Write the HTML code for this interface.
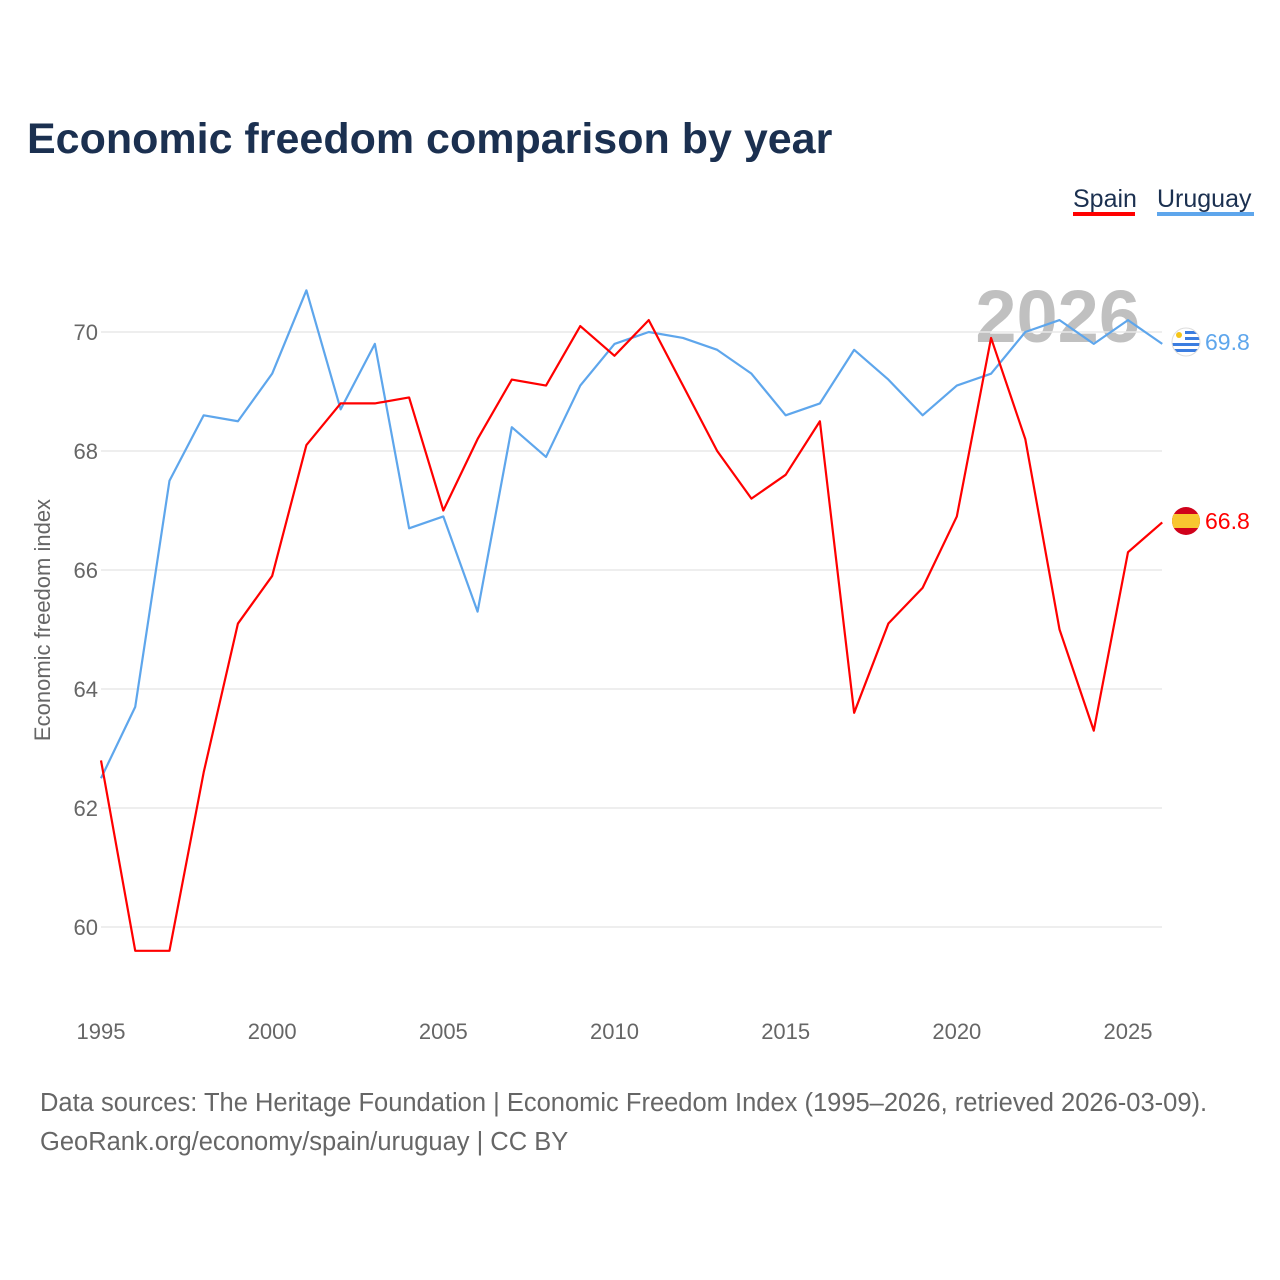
<!DOCTYPE html>
<html><head><meta charset="utf-8"><style>
body{margin:0;background:#fff;font-family:"Liberation Sans",sans-serif;}
svg{display:block}
</style></head><body>
<svg width="1280" height="1280" viewBox="0 0 1280 1280">
<text x="27" y="153" font-size="43" font-weight="bold" fill="#1b3050">Economic freedom comparison by year</text>
<g>
<text x="1073" y="207" font-size="25" fill="#1b3050">Spain</text>
<rect x="1073" y="212" width="62" height="4" fill="#ff0000"/>
<text x="1157" y="207" font-size="25" fill="#1b3050">Uruguay</text>
<rect x="1157" y="212" width="97" height="4" fill="#5ea6ec"/>
</g>
<text x="1140" y="342" font-size="74" font-weight="bold" fill="#c0c0c0" text-anchor="end">2026</text>
<g id="grid"></g><g id="xt"></g>
<text transform="translate(50,620) rotate(-90)" font-size="22" fill="#666" text-anchor="middle">Economic freedom index</text>
<g id="lines"></g>
<g>
<clipPath id="cu"><circle cx="1186" cy="342" r="14"/></clipPath>
<g clip-path="url(#cu)"><rect x="1172" y="328" width="28" height="28" fill="#fff"/>
<rect x="1172" y="331" width="28" height="3" fill="#3b7de0"/><rect x="1172" y="337" width="28" height="3" fill="#3b7de0"/><rect x="1172" y="343" width="28" height="3" fill="#3b7de0"/><rect x="1172" y="349" width="28" height="3" fill="#3b7de0"/>
<rect x="1172" y="328" width="13" height="13" fill="#fff"/><circle cx="1179" cy="335" r="3" fill="#f5c518"/></g>
<circle cx="1186" cy="342" r="14" fill="none" stroke="#ddd" stroke-width="1"/>
<text x="1205" y="350" font-size="23" fill="#5ea6ec">69.8</text></g>
<g>
<clipPath id="cs"><circle cx="1186" cy="521" r="14"/></clipPath>
<g clip-path="url(#cs)"><rect x="1172" y="507" width="28" height="28" fill="#d0021b"/><rect x="1172" y="514" width="28" height="14" fill="#f8c630"/></g>
<text x="1205" y="529" font-size="23" fill="#ff0000">66.8</text></g>
<text x="40" y="1111" font-size="25.5" fill="#666">Data sources: The Heritage Foundation | Economic Freedom Index (1995–2026, retrieved 2026-03-09).</text>
<text x="40" y="1150" font-size="25.5" fill="#666">GeoRank.org/economy/spain/uruguay | CC BY</text>
</svg>
<script>
const years=[1995,1996,1997,1998,1999,2000,2001,2002,2003,2004,2005,2006,2007,2008,2009,2010,2011,2012,2013,2014,2015,2016,2017,2018,2019,2020,2021,2022,2023,2024,2025,2026];
const spain=[62.8,59.6,59.6,62.6,65.1,65.9,68.1,68.8,68.8,68.9,67.0,68.2,69.2,69.1,70.1,69.6,70.2,69.1,68.0,67.2,67.6,68.5,63.6,65.1,65.7,66.9,69.9,68.2,65.0,63.3,66.3,66.8];
const uruguay=[62.5,63.7,67.5,68.6,68.5,69.3,70.7,68.7,69.8,66.7,66.9,65.3,68.4,67.9,69.1,69.8,70.0,69.9,69.7,69.3,68.6,68.8,69.7,69.2,68.6,69.1,69.3,70.0,70.2,69.8,70.2,69.8];
const yTicks=[60,62,64,66,68,70];
const xTicks=[1995,2000,2005,2010,2015,2020,2025];
const NS="http://www.w3.org/2000/svg";
const xs=y=>101+(y-1995)*(1128-101)/30;
const ys=v=>927-(v-60)*59.5;
function mk(t,a,p){const e=document.createElementNS(NS,t);for(const k in a)e.setAttribute(k,a[k]);p.appendChild(e);return e;}
const g=document.getElementById('grid');
yTicks.forEach(v=>{
const l=mk('line',{x1:101,x2:1162,y1:ys(v),y2:ys(v),stroke:'#e8e8e8','stroke-width':1.5},g);


const t=mk('text',{x:98,y:ys(v)+8,'font-size':22,fill:'#666','text-anchor':'end'},g);t.textContent=v;


});
const xt=document.getElementById('xt');
xTicks.forEach(v=>{
const t=mk('text',{x:xs(v),y:1039,'font-size':22,fill:'#666','text-anchor':'middle'},xt);t.textContent=v;


});
const L=document.getElementById('lines');
function line(d,c,n){const p=mk('polyline',{points:d.map((v,i)=>xs(years[i])+','+ys(v)).join(' '),fill:'none',stroke:c,'stroke-width':2.2,'stroke-linejoin':'round'},L);

}
line(uruguay,'#5ea6ec','uruguay-line');
line(spain,'#ff0000','spain-line');
</script>
</body></html>
